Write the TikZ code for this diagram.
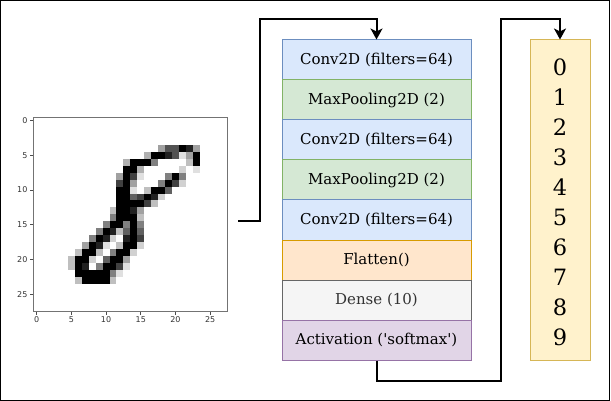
\documentclass[tikz,border=0pt]{standalone}
\usepackage{fontspec}
\setmainfont{DejaVu Serif}
\setsansfont{DejaVu Sans}
\usepackage{tikz}
\usetikzlibrary{arrows.meta}
\definecolor{convfill}{HTML}{DAE8FC}
\definecolor{convline}{HTML}{6C8EBF}
\definecolor{poolfill}{HTML}{D5E8D4}
\definecolor{poolline}{HTML}{82B366}
\definecolor{flatfill}{HTML}{FFE6CC}
\definecolor{flatline}{HTML}{D79B00}
\definecolor{densefill}{HTML}{F5F5F5}
\definecolor{denseline}{HTML}{666666}
\definecolor{actfill}{HTML}{E1D5E7}
\definecolor{actline}{HTML}{9673A6}
\definecolor{outfill}{HTML}{FFF2CC}
\definecolor{outline}{HTML}{D6B656}
\tikzstyle{layer} = [minimum width=189pt, minimum height=40pt, inner sep=0pt, line width=1pt, font=\fontsize{15}{18}\selectfont]
\tikzstyle{conv} = [layer, draw=convline, fill=convfill]
\tikzstyle{pool} = [layer, draw=poolline, fill=poolfill]
\tikzstyle{digit} = [inner sep=0pt, font=\fontsize{22.5}{26}\selectfont]
\tikzstyle{tick} = [black!70, line width=0.7pt]
\tikzstyle{ticklabel} = [font=\sffamily\fontsize{8}{9}\selectfont, text=black!80]
\tikzstyle{link} = [line width=2pt, -{Stealth[length=11pt,width=12pt,inset=3pt]}]

\begin{document}
\begin{tikzpicture}[x=1pt, y=-1pt]
  \useasboundingbox (0,0) rectangle (611,401);
  \draw[line width=1.2pt] (0.6,0.6) rectangle (609.6,400.2);

  % input image
  \begin{scope}[shift={(33.2,117.2)}, x=6.94pt, y=-6.94pt]
    \foreach \c/\r/\v in {18/4/30,19/4/55,20/4/55,21/4/90,22/4/70,23/4/30,
      16/5/25,17/5/95,18/5/95,19/5/70,20/5/55,21/5/10,22/5/30,23/5/85,
      13/6/25,14/6/85,15/6/95,16/6/90,17/6/40,22/6/20,23/6/90,
      13/7/90,14/7/90,15/7/25,21/7/15,23/7/10,
      12/8/30,13/8/95,14/8/60,15/8/10,19/8/40,20/8/95,21/8/40,
      12/9/60,13/9/95,14/9/30,18/9/40,19/9/90,20/9/60,21/9/15,
      12/10/80,13/10/95,14/10/10,16/10/20,17/10/80,18/10/95,19/10/50,
      12/11/90,13/11/95,14/11/50,15/11/60,16/11/95,17/11/70,18/11/15,
      12/12/95,13/12/90,14/12/95,15/12/95,16/12/60,17/12/20,
      11/13/20,12/13/95,13/13/95,14/13/70,15/13/30,
      11/14/40,12/14/95,13/14/95,14/14/90,15/14/20,
      10/15/40,11/15/95,12/15/90,13/15/40,14/15/95,15/15/40,
      9/16/40,10/16/95,11/16/70,12/16/20,13/16/50,14/16/95,15/16/50,
      8/17/40,9/17/95,10/17/70,11/17/15,13/17/70,14/17/95,15/17/60,
      7/18/30,8/18/95,9/18/70,10/18/10,12/18/20,13/18/95,14/18/90,15/18/15,
      6/19/20,7/19/80,8/19/95,9/19/20,11/19/40,12/19/95,13/19/90,14/19/15,
      5/20/20,6/20/95,7/20/90,8/20/15,10/20/50,11/20/95,12/20/90,13/20/30,
      5/21/20,6/21/95,7/21/70,9/21/40,10/21/95,11/21/90,12/21/60,13/21/10,
      6/22/95,7/22/90,8/22/80,9/22/95,10/22/90,11/22/40,12/22/10,
      6/23/20,7/23/85,8/23/95,9/23/95,10/23/90,11/23/20}
    {
      \pgfmathtruncatemacro\w{min(100,1.25*\v)}
      \fill[black!\w] (\c,\r) rectangle ++(1,1);
    }
  \end{scope}
  \node (digit) at (130.3,214.4) [draw=black!55, line width=0.8pt, minimum width=194.2pt, minimum height=194.4pt, inner sep=0pt] {};
  \foreach \t in {0,5,...,25} {
    \draw[tick] (33.2+6.94*\t+3.47,311.6) -- ++(0,3.5) node[below, ticklabel, inner sep=1.5pt] (xt\t) {\t};
    \draw[tick] (33.2,117.2+6.94*\t+3.47) -- ++(-3.5,0) node[left, ticklabel, inner sep=2pt] (yt\t) {\t};
  }
  \coordinate (imgout) at (238,221);

  % network
  \node (conv1) at (376.5,60) [conv] {Conv2D (filters=64)};
  \node (pool1) at (376.5,100) [pool] {MaxPooling2D (2)};
  \node (conv2) at (376.5,140) [conv] {Conv2D (filters=64)};
  \node (pool2) at (376.5,180) [pool] {MaxPooling2D (2)};
  \node (conv3) at (376.5,220) [conv] {Conv2D (filters=64)};
  \node (flat) at (376.5,260) [layer, draw=flatline, fill=flatfill] {Flatten()};
  \node (dense) at (376.5,300) [layer, draw=denseline, fill=densefill, text=black!80] {Dense (10)};
  \node (act) at (376.5,340) [layer, draw=actline, fill=actfill] {Activation (\textquotesingle softmax\textquotesingle)};

  % outputs
  \node (classes) at (560,200) [draw=outline, fill=outfill, line width=1pt, minimum width=60pt, minimum height=320pt] {};
  \foreach \d in {0,...,9}
    \node (d\d) at (560,67+30*\d) [digit] {\d};

  \draw[link] (imgout) -- ++(22,0) |- ([yshift=20pt]conv1.north) -- (conv1.north);
  \draw[link] (act.south) -- ++(0,20) -- ++(124,0) |- ([yshift=20pt]classes.north) -- (classes.north);
\end{tikzpicture}
\end{document}
